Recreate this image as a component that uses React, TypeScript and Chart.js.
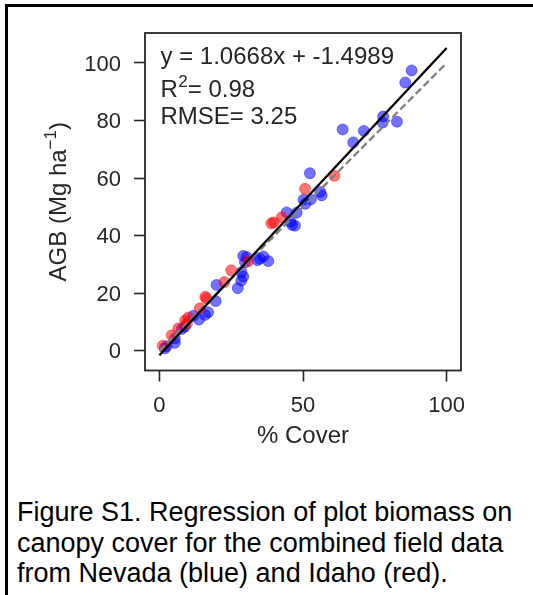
import React, { useEffect, useRef } from "react";
import { Chart, registerables } from "chart.js";

Chart.register(...registerables);

const FONT = "'Liberation Sans', Arial, Helvetica, sans-serif";

// Nevada plots (blue): % cover and AGB (Mg/ha)
const nevadaCover = [87.8, 85.6, 77.9, 77.7, 82.7, 63.8, 71.2, 67.5, 52.4, 56.0, 56.5, 50.2, 50.8, 52.7, 44.3, 47.8, 46.2, 47.2, 45.6, 29.2, 30.4, 35.0, 36.2, 37.9, 34.1, 29.8, 28.6, 29.2, 28.5, 27.3, 19.9, 19.6, 17.0, 15.9, 13.8, 11.8, 8.9, 7.8, 5.4, 5.4, 1.9, 2.5];
const nevadaAGB = [97.4, 93.2, 81.4, 79.3, 79.6, 76.9, 76.4, 72.4, 61.7, 55.2, 54.0, 52.5, 51.1, 52.6, 48.1, 48.0, 43.8, 43.5, 44.9, 33.0, 32.6, 32.0, 32.8, 31.2, 31.5, 30.8, 27.3, 25.8, 24.4, 21.8, 22.9, 17.3, 13.4, 12.5, 10.9, 12.2, 8.4, 7.6, 4.3, 2.8, 0.9, 1.6];

// Idaho plots (red)
const idahoCover = [60.9, 50.7, 42.6, 39.0, 39.8, 30.9, 25.0, 22.6, 16.0, 16.4, 14.1, 10.1, 9.0, 9.6, 6.6, 4.3, 1.2];
const idahoAGB = [60.8, 56.3, 46.4, 44.3, 44.6, 31.1, 28.0, 23.9, 18.8, 18.2, 14.8, 11.6, 10.6, 9.6, 7.8, 5.4, 1.8];

// Regression fit and 1:1 reference
const slope = 1.0668;
const intercept = -1.4989;
const lineCover = [0, 100];

const xTicks = [0, 50, 100];
const yTicks = [0, 20, 40, 60, 80, 100];

const xLabel = "% Cover";
const yLabelMain = "AGB (Mg ha";
const yLabelSup = "\u22121";
const yLabelEnd = ")";
const eqText = "y = 1.0668x + -1.4989";
const r2Value = "= 0.98";
const rmseText = "RMSE= 3.25";
const caption = [
  "Figure S1. Regression of plot biomass on",
  "canopy cover for the combined field data",
  "from Nevada (blue) and Idaho (red).",
];

const TEXT = "#262626";

const overlay = {
  id: "overlay",
  afterDraw(chart: any) {
    const { ctx, chartArea: a } = chart;
    ctx.save();
    ctx.strokeStyle = TEXT;
    ctx.lineWidth = 1.8;
    ctx.strokeRect(a.left, a.top, a.right - a.left, a.bottom - a.top);

    ctx.fillStyle = TEXT;
    ctx.textAlign = "left";
    ctx.textBaseline = "alphabetic";
    const big = `24px ${FONT}`;
    const small = `17px ${FONT}`;
    const tx = a.left + 15.5;
    ctx.font = big;
    ctx.fillText(eqText, tx, a.top + 31.3);
    let x = tx;
    const y2 = a.top + 63.7;
    ctx.fillText("R", x, y2);
    x += ctx.measureText("R").width;
    ctx.font = small;
    ctx.fillText("2", x + 0.5, y2 - 9.5);
    x += ctx.measureText("2").width + 0.5;
    ctx.font = big;
    ctx.fillText(r2Value, x, y2);
    ctx.fillText(rmseText, tx, a.top + 91.3);

    // x title
    ctx.textAlign = "center";
    ctx.fillText(xLabel, (a.left + a.right) / 2, 443);

    // y title (rotated, with superscript)
    ctx.translate(65.5, (a.top + a.bottom) / 2);
    ctx.rotate(-Math.PI / 2);
    ctx.textAlign = "left";
    ctx.font = big;
    const w1 = ctx.measureText(yLabelMain).width;
    const w3 = ctx.measureText(yLabelEnd).width;
    ctx.font = small;
    const w2 = ctx.measureText(yLabelSup).width;
    let sx = -(w1 + w2 + w3) / 2;
    ctx.font = big;
    ctx.fillText(yLabelMain, sx, 0);
    sx += w1;
    ctx.font = small;
    ctx.fillText(yLabelSup, sx, -9.5);
    sx += w2;
    ctx.font = big;
    ctx.fillText(yLabelEnd, sx, 0);
    ctx.restore();
  },
};

export default function App() {
  const ref = useRef<HTMLCanvasElement | null>(null);

  useEffect(() => {
    if (!ref.current) return;
    Chart.defaults.font.family = FONT;
    const nevada = nevadaCover.map((c, i) => ({ x: c, y: nevadaAGB[i] }));
    const idaho = idahoCover.map((c, i) => ({ x: c, y: idahoAGB[i] }));
    const fit = lineCover.map((c) => ({ x: c, y: slope * c + intercept }));
    const oneToOne = lineCover.map((c) => ({ x: c, y: c }));

    const axisCommon = (ticks: number[], padding: number, extra: any) => ({
      type: "linear" as const,
      afterBuildTicks: (s: any) => {
        s.ticks = ticks.map((v) => ({ value: v }));
      },
      grid: {
        display: true,
        drawOnChartArea: false,
        drawTicks: true,
        tickLength: 11,
        tickWidth: 1.6,
        tickColor: TEXT,
      },
      border: { display: false },
      ticks: {
        padding,
        color: TEXT,
        font: { size: 22, family: FONT },
        maxRotation: 0,
        autoSkip: false,
        ...extra,
      },
    });

    const chart = new Chart(ref.current, {
      type: "scatter",
      data: {
        datasets: [
          {
            type: "line",
            label: "fit",
            data: fit,
            borderColor: "#000000",
            borderWidth: 2.3,
            pointRadius: 0,
            fill: false,
            order: 0,
          } as any,
          {
            type: "line",
            label: "1:1",
            data: oneToOne,
            borderColor: "#808080",
            borderWidth: 2.3,
            borderDash: [7.5, 3.5],
            pointRadius: 0,
            fill: false,
            order: 1,
          } as any,
          {
            label: "Idaho",
            data: idaho,
            backgroundColor: "rgba(255,0,0,0.55)",
            borderColor: "rgba(255,0,0,0.55)",
            borderWidth: 0.8,
            pointRadius: 5.5,
            order: 2,
          },
          {
            label: "Nevada",
            data: nevada,
            backgroundColor: "rgba(0,0,255,0.55)",
            borderColor: "rgba(0,0,255,0.55)",
            borderWidth: 0.8,
            pointRadius: 5.5,
            order: 3,
          },
        ],
      },
      options: {
        animation: false,
        responsive: false,
        maintainAspectRatio: false,
        layout: { padding: { top: 33, right: 72, left: 0, bottom: 0 } },
        plugins: { legend: { display: false }, tooltip: { enabled: false } },
        scales: {
          x: {
            ...axisCommon(xTicks, 11.2, {}),
            min: -5,
            max: 105,
            afterFit: (s: any) => {
              s.height = 89.5;
            },
          },
          y: {
            ...axisCommon(yTicks, 13, { labelOffset: 1.5 }),
            min: -6.8,
            max: 110.4,
            afterFit: (s: any) => {
              s.width = 145;
            },
          },
        } as any,
      },
      plugins: [overlay],
    });
    return () => chart.destroy();
  }, []);

  return (
    <div
      style={{
        position: "absolute",
        left: 0,
        top: 0,
        width: 533,
        height: 595,
        overflow: "hidden",
        background: "#ffffff",
      }}
    >
      <div
        style={{
          position: "absolute",
          left: 5,
          top: 4,
          width: 600,
          height: 640,
          borderLeft: "3px solid #000",
          borderTop: "3px solid #000",
        }}
      />
      <canvas
        ref={ref}
        width={533}
        height={460}
        style={{ position: "absolute", left: 0, top: 0, width: 533, height: 460 }}
      />
      <div
        style={{
          position: "absolute",
          left: 17,
          top: 497,
          fontFamily: FONT,
          fontSize: 27,
          lineHeight: "30.5px",
          color: "#000",
          whiteSpace: "nowrap",
        }}
      >
        {caption.map((line, i) => (
          <div key={i}>{line}</div>
        ))}
      </div>
    </div>
  );
}
